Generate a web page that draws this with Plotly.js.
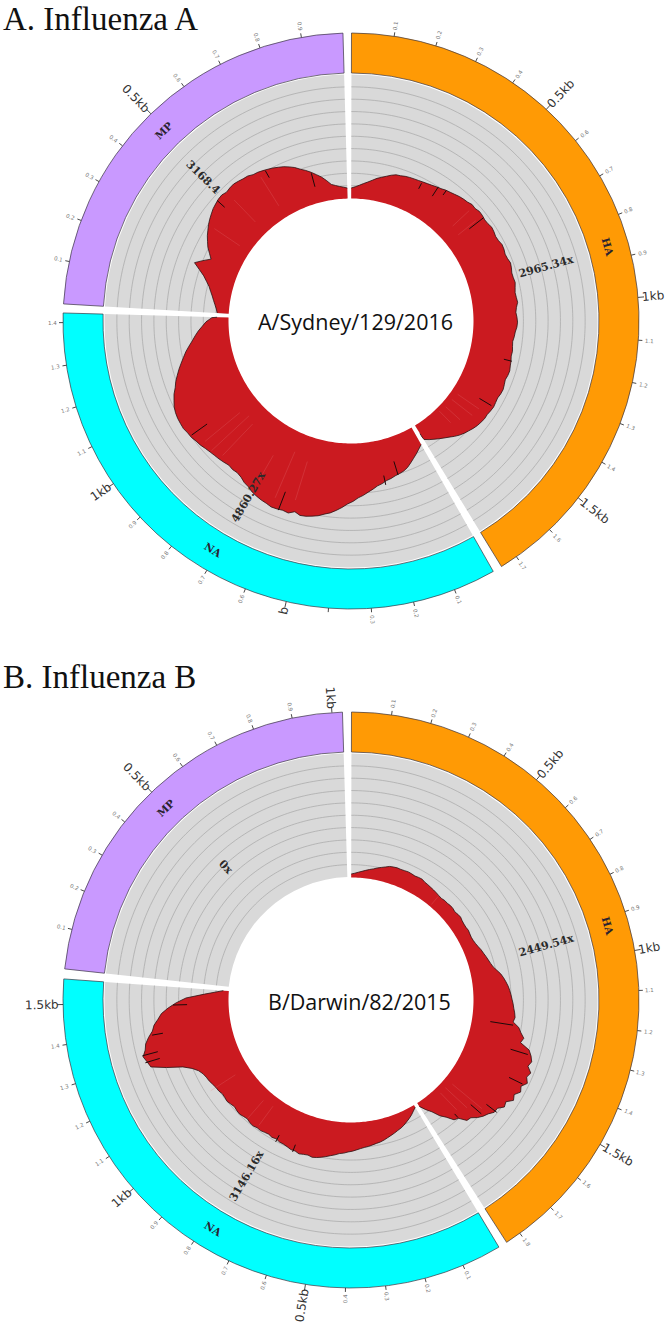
<!DOCTYPE html>
<html>
<head>
<meta charset="utf-8">
<script src="https://cdn.plot.ly/plotly-3.0.1.min.js"></script>
<style>html,body{margin:0;padding:0;background:#fff}#c{width:666px;height:1323px}</style>
</head>
<body>
<div id="c"></div>
<script>
// ---- data ----
const sectorNames = ['HA', 'NA', 'MP'];
const sectorColors = ['#FF9A05', '#00FFFF', '#C999FF'];
const startA = [0.1, 150.4, 273.4];
const endA = [148.5, 271.6, 358.4];
const startB = [0.1, 149.1, 276.2];
const endB = [147.3, 274.2, 358.3];
const sectorLabelThetaA = [74, 211, 315.6];
const sectorLabelThetaB = [74, 211, 316];
const tickCountA = [17, 14, 9];
const tickCountB = [18, 15, 10];
const coverageLabelsA = ['2965.34x', '4860.27x', '3168.4'];
const coverageLabelThetaA = [74.5, 210.3, 314.2];
const coverageLabelsB = ['2449.54x', '3146.16x', '0x'];
const coverageLabelThetaB = [74.3, 210.7, 316.6];
const coverageLabelRadiusA = [203, 204, 206];
const coverageLabelRadiusB = [203, 204, 182];

// read depth every 0.02 kb along each segment
const depthHA_A = [620,700,806,930,1054,1200,1364,1480,1612,1750,1860,1890,1953,1990,2015,2040,2077,2120,2170,2240,2294,2390,2449,2520,2604,2660,2697,2790,2759,2840,2821,2770,2790,2860,2821,2760,2790,2870,2852,2790,2821,2900,2852,2780,2790,2830,2759,2700,2728,2770,2666,2610,2666,2700,2666,2580,2542,2480,2511,2560,2542,2600,2635,2690,2666,2610,2666,2720,2697,2640,2666,2700,2666,2620,2635,2590,2542,2460,2356,2260,2139,1980,1798,1640,1488,1330,1178,1000,806,680,558];
const depthNA_A = [1178,1360,1550,1730,1922,2110,2232,2300,2356,2450,2511,2640,2728,2890,3038,3210,3348,3560,3720,3950,4154,4340,4464,4620,4712,4800,4836,4700,4898,4850,4898,4920,4836,4790,4712,4620,4464,4380,4216,4130,4154,4090,4154,4210,4247,4300,4371,4470,4526,4620,4650,4720,4712,4700,4650,4560,4402,4250,4030,3870,3658,3450,3224,3000,2790,2540,2294,2080,1860,1600,1364,1000,682];
const depthMP_A = [682,760,868,990,1116,1270,1426,1660,1922,2300,2728,2300,1860,2100,2356,2540,2728,2880,3038,3170,3286,3400,3472,3540,3565,3480,3534,3560,3503,3440,3410,3290,3255,3180,3100,3020,2914,2810,2666,2510,2294,2120,1922,1700,1488,1220,930,830,744,680,620];
const depthHA_B = [102,130,170,210,255,300,340,395,442,490,544,565,578,570,578,590,578,560,578,585,544,530,510,495,476,455,442,465,459,480,476,450,476,490,459,445,442,460,442,430,442,470,510,560,595,640,680,725,782,880,986,1060,1122,1180,1224,1260,1292,1330,1360,1400,1428,1380,1598,1700,1836,1760,2108,2230,2312,2240,2414,2340,2449,2300,2380,2230,2312,2120,2176,2010,2006,1880,1802,1690,1530,1500,1258,1190,952,780,510,330,119];
const depthNA_B = [68,150,238,310,374,440,493,530,578,620,663,710,748,770,799,830,850,880,918,960,986,1030,1054,1110,1156,1210,1258,1300,1326,1290,1309,1340,1292,1300,1258,1230,1224,1180,1207,1170,1190,1220,1207,1240,1224,1180,1207,1240,1224,1190,1224,1260,1241,1230,1275,1290,1326,1370,1394,1440,1530,1700,1972,2500,2992,3060,3146,3020,2958,2820,2652,2570,2414,2280,2040,1760,1428,800,170];
const depthMP_B = [];

// dark notches: [kb, low depth, high depth]
const spikesHA_A = [[0.317,1581,1965],[0.387,1612,2294],[0.423,2046,2393],[0.61,1674,2771],[1.22,2145,2654],[1.42,1674,2536]];
const spikesNA_A = [[0.148,1476,2356],[0.207,2170,2759],[0.594,3720,4935],[0.986,3348,4526]];
const spikesMP_A = [[0.84,992,1860],[0.668,2604,3100],[0.453,2914,3534]];
const spikesHA_B = [[1.234,612,1394],[1.338,1496,2108],[1.45,1802,2312],[1.594,1632,2074],[1.638,1224,1700],[1.72,1054,1224]];
const spikesNA_B = [[1.324,2618,3162],[1.299,2618,3128],[1.386,2312,2686],[1.491,1394,1870],[0.736,1020,1278],[0.649,1088,1350]];
const spikesMP_B = [];

// lighter streaks inside the red: [kb, low depth, high depth]
const streaksHA_A = [[0.55,1000,2400],[0.6,900,2300],[1.46,400,2000],[1.5,300,1900],[1.55,300,1500],[1.59,200,1200]];
const streaksNA_A = [[0.55,1500,4000],[0.62,1200,4300],[0.86,1200,3900],[0.9,1000,4200],[0.94,1300,4100],[0.7,2000,3800]];
const streaksMP_A = [[0.36,700,2600],[0.5,900,2800],[0.64,800,2900]];
const streaksHA_B = [[0.5,60,420],[1.62,300,1600],[1.66,200,1200],[1.7,200,1000]];
const streaksNA_B = [[0.84,300,1100],[0.9,350,1150],[1.1,500,1500]];
const streaksMP_B = [];

// ---- scales and styles ----
const W = 666, H = 1323;
const HOLE = 123, TRACK_OUT = 246.5, RING_IN = 248, RING_OUT = 288, BANDS = 10;
const RED = '#CB1A20';

const traces = [], annotations = [];
function text(x, y, t, size, family, color, angle, anchor) {
  annotations.push({xref:'paper', yref:'paper', x:x/W, y:1-y/H, text:t, showarrow:false,
    xanchor:anchor||'center', yanchor:'middle', textangle:angle||0,
    font:{size:size, family:family, color:color}});
}

function segTrace(subplot, s, degPerKb, depthScale, list, color, width) {
  const st = [], sr = [];
  list.forEach(p => {
    const a = s + p[0]*degPerKb;
    st.push(a, a, null); sr.push(HOLE+p[1]*depthScale, HOLE+p[2]*depthScale, null);
  });
  traces.push({type:'scatterpolar', subplot, mode:'lines', theta:st, r:sr,
    line:{color, width}, hoverinfo:'skip'});
}

function panel(subplot, cx, cy, starts, ends, degPerKb, depthScale, depths, spikes, streaks, tickCounts, labelTheta, covLabels, covTheta, covR, overrides) {
  const px = th => th*Math.PI/180;
  const at = (r, th) => [cx + r*Math.sin(px(th)), cy - r*Math.cos(px(th))];
  const radial = th => (th < 180 ? th-90 : th-270);

  starts.forEach((s, i) => {
    const e = ends[i], mid = (s+e)/2, w = e-s;
    // grey track and coloured ring
    traces.push({type:'barpolar', subplot, theta:[mid], width:[w], base:[HOLE], r:[TRACK_OUT-HOLE],
      marker:{color:'#D9D9D9', line:{width:0}}, hoverinfo:'skip'});
    traces.push({type:'barpolar', subplot, theta:[mid], width:[w], base:[RING_IN], r:[RING_OUT-RING_IN],
      marker:{color:sectorColors[i], line:{color:'#3a3340', width:0.7}}, hoverinfo:'skip'});
    // band lines
    const lt = [], lr = [];
    for (let b = 1; b < BANDS; b++) {
      const r = HOLE + (TRACK_OUT-HOLE)*b/BANDS;
      for (let a = s; a < e; a += 1) { lt.push(a); lr.push(r); }
      lt.push(e); lr.push(r); lt.push(null); lr.push(null);
    }
    traces.push({type:'scatterpolar', subplot, mode:'lines', theta:lt, r:lr,
      line:{color:'#a6a6a6', width:0.7}, hoverinfo:'skip'});

    // coverage
    const d = depths[i];
    if (d.length) {
      const th = d.map((_, k) => Math.min(e, s + k*0.02*degPerKb));
      th[th.length-1] = e;
      const r = d.map(v => HOLE + v*depthScale);
      const polyT = th.slice(), polyR = r.slice();
      for (let a = e; a > s; a -= 1) { polyT.push(a); polyR.push(HOLE-0.5); }
      polyT.push(s); polyR.push(HOLE-0.5);
      traces.push({type:'scatterpolar', subplot, mode:'lines', theta:polyT, r:polyR, fill:'toself',
        fillcolor:RED, line:{color:RED, width:0}, hoverinfo:'skip'});
      segTrace(subplot, s, degPerKb, depthScale, streaks[i], 'rgba(232,120,124,0.3)', 0.8);
      traces.push({type:'scatterpolar', subplot, mode:'lines', theta:th, r:r,
        line:{color:'#2b1012', width:0.8}, hoverinfo:'skip'});
      segTrace(subplot, s, degPerKb, depthScale, spikes[i], '#1c0a0a', 1);
    }

    // kb ticks
    const tt = [], tr = [];
    for (let k = 1; k <= tickCounts[i]; k++) {
      const a = s + k/10*degPerKb, major = k%5 === 0;
      tt.push(a, a, null); tr.push(RING_OUT, RING_OUT + (major ? 6 : 4), null);
      const key = sectorNames[i]+k;
      let label = major ? (k/10)+'kb' : (k/10).toFixed(1);
      if (overrides && key in overrides) label = overrides[key];
      if (!label) continue;
      const rc = major ? RING_OUT + 6 + label.length*3 : (label === 'b' ? 297 : RING_OUT + 11);
      const p = at(rc, a);
      if (major) text(p[0], p[1], label, 12, 'DejaVu Sans, sans-serif', '#333', radial(a));
      else text(p[0], p[1], label, 5.5, 'DejaVu Sans, sans-serif', '#777', radial(a));
    }
    traces.push({type:'scatterpolar', subplot, mode:'lines', theta:tt, r:tr,
      line:{color:'#333', width:0.9}, hoverinfo:'skip'});

    // sector names
    const lth = labelTheta[i], lp = at((RING_IN+RING_OUT)/2 - 1, lth);
    text(lp[0], lp[1], '<b>'+sectorNames[i]+'</b>', 10.5, 'DejaVu Serif, serif', '#2a2230', lth < 180 ? lth : (lth < 270 ? lth-180 : lth-360));

    // mean coverage labels
    const cp = at(covR[i], covTheta[i]);
    text(cp[0], cp[1], '<b>'+covLabels[i]+'</b>', 11, 'DejaVu Serif, serif', '#2a2a2a', radial(covTheta[i]));
  });
}

const scaleA = 1/62, scaleB = 1/34;
panel('polar',  351, 321,  startA, endA, 85.2, scaleA, [depthHA_A, depthNA_A, depthMP_A], [spikesHA_A, spikesNA_A, spikesMP_A], [streaksHA_A, streaksNA_A, streaksMP_A],
      tickCountA, sectorLabelThetaA, coverageLabelsA, coverageLabelThetaA, coverageLabelRadiusA, {NA4:'', NA5:'b'});
panel('polar2', 351, 1000, startB, endB, 80, scaleB, [depthHA_B, depthNA_B, depthMP_B], [spikesHA_B, spikesNA_B, spikesMP_B], [streaksHA_B, streaksNA_B, streaksMP_B],
      tickCountB, sectorLabelThetaB, coverageLabelsB, coverageLabelThetaB, coverageLabelRadiusB, null);

text(1, 18.5, 'A. Influenza A', 33, 'Liberation Serif, serif', '#111', 0, 'left');
text(1, 677, 'B. Influenza B', 33, 'Liberation Serif, serif', '#111', 0, 'left');
text(355.5, 321, 'A/Sydney/129/2016', 21.5, 'Open Sans, sans-serif', '#111');
text(359.5, 1001, 'B/Darwin/82/2015', 21.5, 'Open Sans, sans-serif', '#111');

function polar(cy) {
  return {
    domain:{x:[(351-300)/W, (351+300)/W], y:[1-(cy+300)/H, 1-(cy-300)/H]},
    bgcolor:'rgba(0,0,0,0)',
    radialaxis:{range:[0,300], visible:false},
    angularaxis:{rotation:90, direction:'clockwise', visible:false},
    bargap:0,
    barmode:'overlay'
  };
}

Plotly.newPlot('c', traces, {
  width:W, height:H, margin:{l:0,r:0,t:0,b:0}, showlegend:false,
  paper_bgcolor:'#fff', plot_bgcolor:'#fff',
  polar:polar(321),
  polar2:polar(1000),
  annotations
}, {displayModeBar:false, staticPlot:true});
</script>
</body>
</html>
